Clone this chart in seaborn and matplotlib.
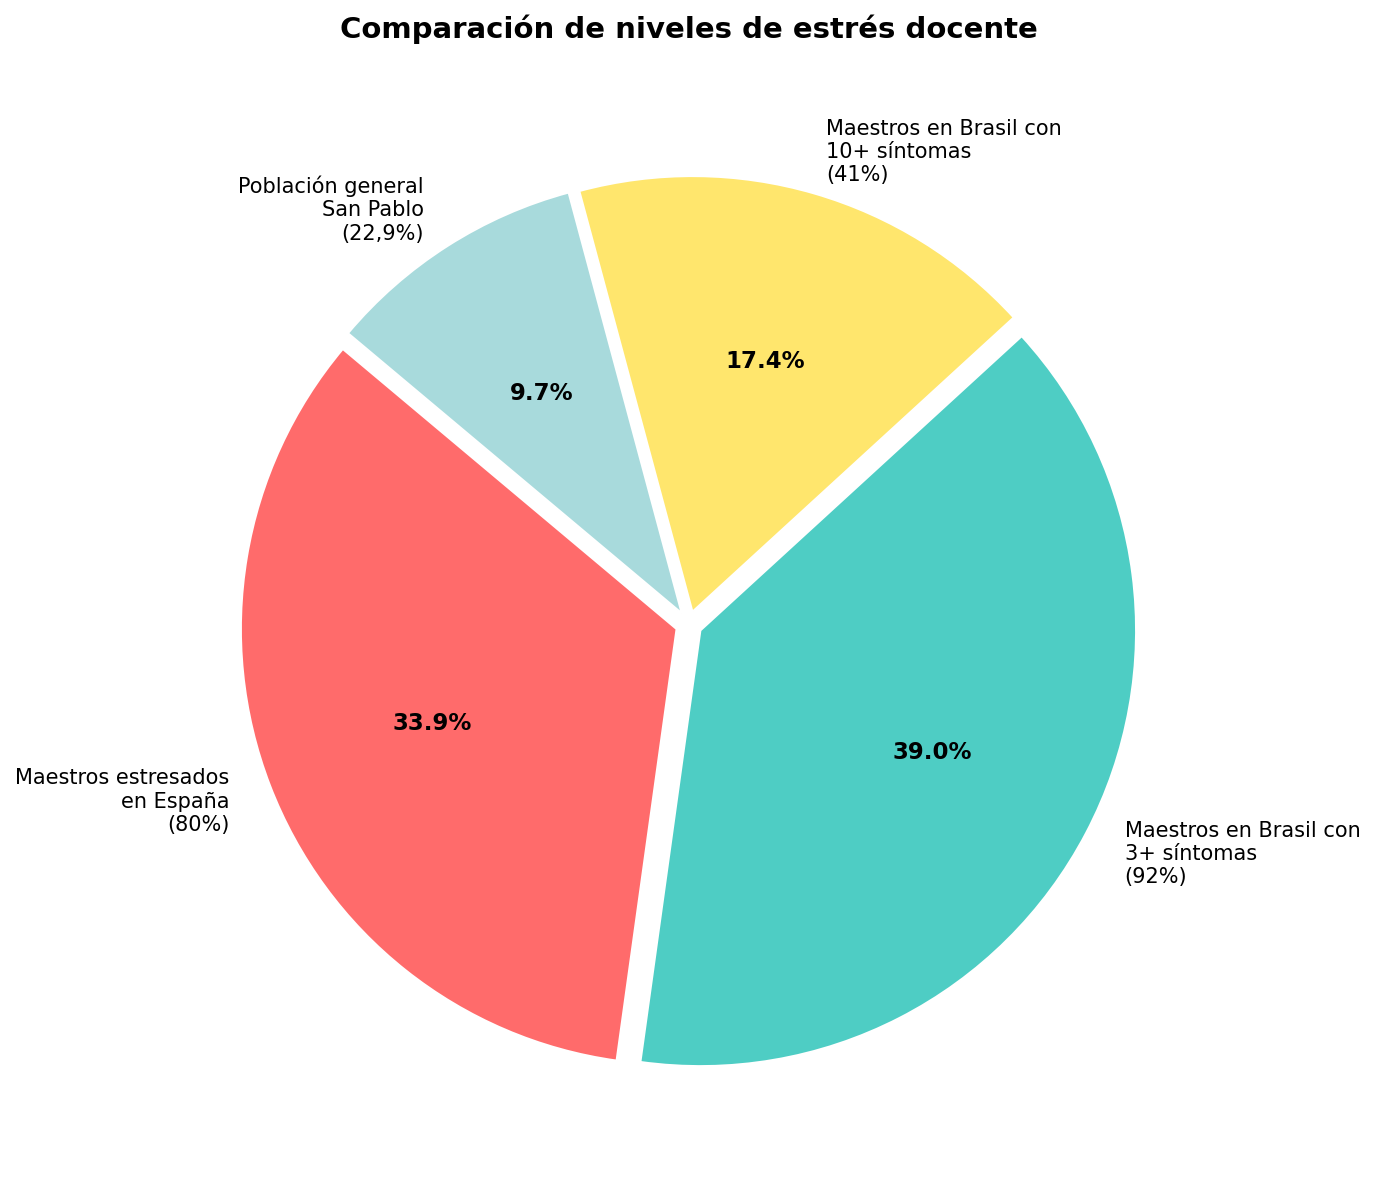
import matplotlib
matplotlib.use("Agg")
import matplotlib.pyplot as plt
import seaborn as sns

sns.set_style("white")
plt.rcParams['font.family'] = ['DejaVu Sans']
plt.rcParams['text.color'] = 'black'

labels = [
    "Maestros estresados\nen España\n(80%)",
    "Maestros en Brasil con\n3+ síntomas\n(92%)",
    "Maestros en Brasil con\n10+ síntomas\n(41%)",
    "Población general\nSan Pablo\n(22,9%)",
]
values = [80, 92, 41, 22.9]
colors = ["#FF6B6B", "#4ECDC4", "#FFE66D", "#A8DADC"]
explode = [0.03, 0.03, 0.03, 0.03]

fig, ax = plt.subplots(figsize=(10, 8))
wedges, texts, autotexts = ax.pie(
    values,
    labels=labels,
    colors=colors,
    explode=explode,
    startangle=140,
    autopct="%1.1f%%",
    textprops=dict(fontsize=10, color="black"),
)
for t in autotexts:
    t.set_fontweight("bold")
    t.set_fontsize(11)
ax.set_title("Comparación de niveles de estrés docente", fontsize=14,
             fontweight="bold", pad=20, color="black")
plt.tight_layout()
fig.savefig("out.png", dpi=150, bbox_inches="tight")
